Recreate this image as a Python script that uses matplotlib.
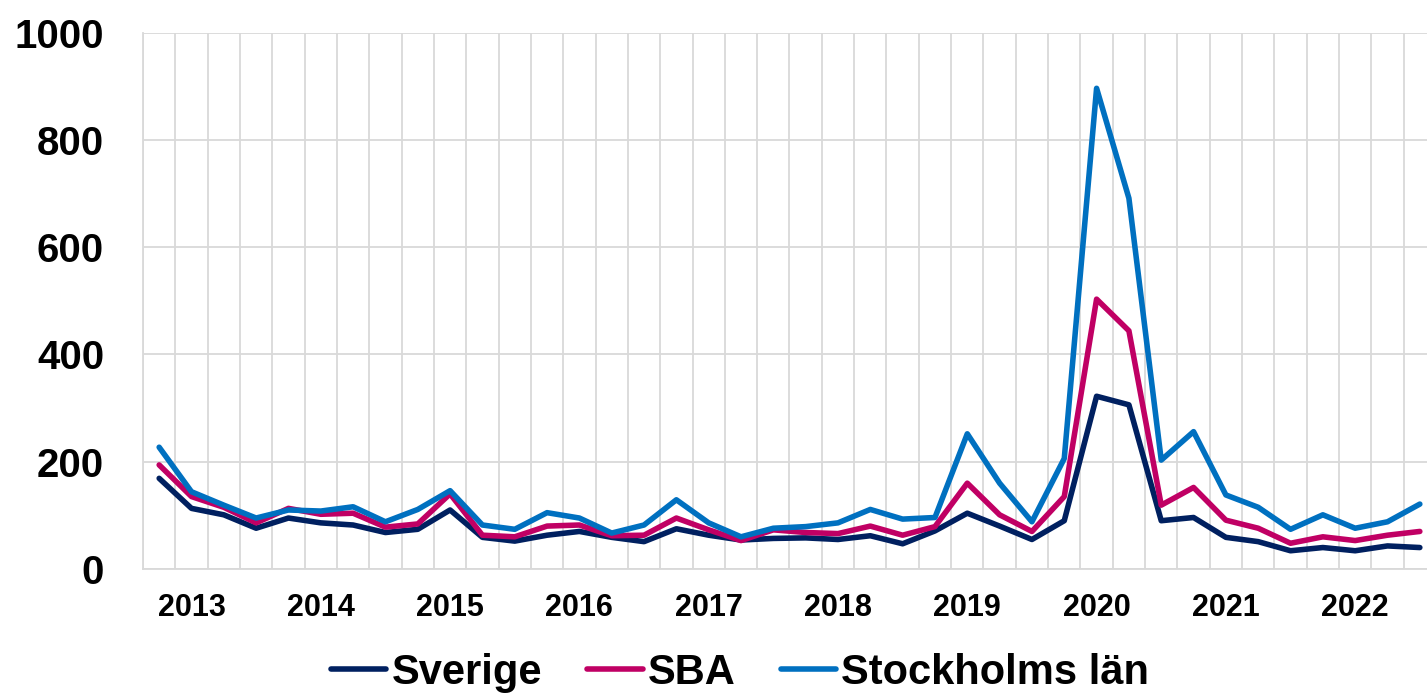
import matplotlib
matplotlib.use("Agg")
import matplotlib.pyplot as plt
import numpy as np

plt.rcParams['font.family'] = ['Liberation Sans', 'DejaVu Sans']
plt.rcParams['font.weight'] = 'bold'

years = ['2013', '2014', '2015', '2016', '2017', '2018', '2019', '2020', '2021', '2022']
series_names = ['Sverige', 'SBA', 'Stockholms län']

sverige = [169, 113, 101, 76, 95, 86, 82, 68, 74, 110,
           59, 52, 63, 70, 59, 51, 75, 63, 54, 57,
           58, 55, 62, 47, 71, 104, 80, 55, 90, 322,
           306, 90, 96, 59, 51, 34, 40, 34, 43, 40]
sba = [194, 135, 115, 86, 113, 102, 104, 78, 84, 140,
       63, 60, 80, 82, 62, 63, 95, 73, 53, 73,
       68, 66, 80, 63, 79, 160, 101, 70, 135, 503,
       444, 119, 152, 91, 76, 48, 60, 53, 63, 70]
stockholm = [227, 144, 119, 95, 110, 108, 116, 88, 111, 146,
             82, 74, 105, 95, 67, 82, 129, 86, 60, 76,
             79, 86, 111, 93, 96, 252, 160, 88, 206, 896,
             691, 203, 256, 138, 115, 74, 101, 76, 88, 121]

colors = ['#002060', '#C00064', '#0070C0']

W, H = 1427, 694
fig = plt.figure(figsize=(W / 100, H / 100), dpi=100)
left, right, top, bottom = 143, 1436, 32.5, 569
ax = fig.add_axes([left / W, 1 - bottom / H, (right - left) / W, (bottom - top) / H])

n = len(sverige)
x = np.arange(n)
for data, c, name in zip([sverige, sba, stockholm], colors, series_names):
    ax.plot(x, data, color=c, lw=4.0, label=name,
            solid_joinstyle='round', solid_capstyle='round', zorder=3)

ax.set_xlim(-0.5, n - 0.5)
ax.set_ylim(0, 1000)
ax.set_yticks(np.arange(0, 1001, 200))
ax.set_xticks(np.arange(1, n, 4))
ax.set_xticklabels(years)
ax.set_xticks(np.arange(-0.5, n, 1), minor=True)

gc = '#D9D9D9'
ax.grid(True, which='major', axis='y', color=gc, lw=1.3)
ax.grid(True, which='minor', axis='x', color=gc, lw=1.3)
ax.grid(False, which='major', axis='x')
ax.set_axisbelow(True)

for s in ['top', 'right']:
    ax.spines[s].set_visible(False)
for s in ['left', 'bottom']:
    ax.spines[s].set_color(gc)
    ax.spines[s].set_linewidth(1.3)

ax.tick_params(axis='y', which='both', length=0, pad=28, labelsize=29)
ax.tick_params(axis='x', which='both', length=0, pad=17, labelsize=22)
for lab in ax.get_xticklabels() + ax.get_yticklabels():
    lab.set_fontweight('bold')

leg = fig.legend(loc='center', bbox_to_anchor=(740 / W, 1 - 673 / H), ncol=3,
                 frameon=False, fontsize=30, handlelength=1.34, handletextpad=0.12,
                 columnspacing=1.08, borderaxespad=0, borderpad=0)
for t in leg.get_texts():
    t.set_fontweight('bold')
for h in leg.legend_handles:
    h.set_linewidth(4.0)

fig.savefig('out.png', dpi=100)
